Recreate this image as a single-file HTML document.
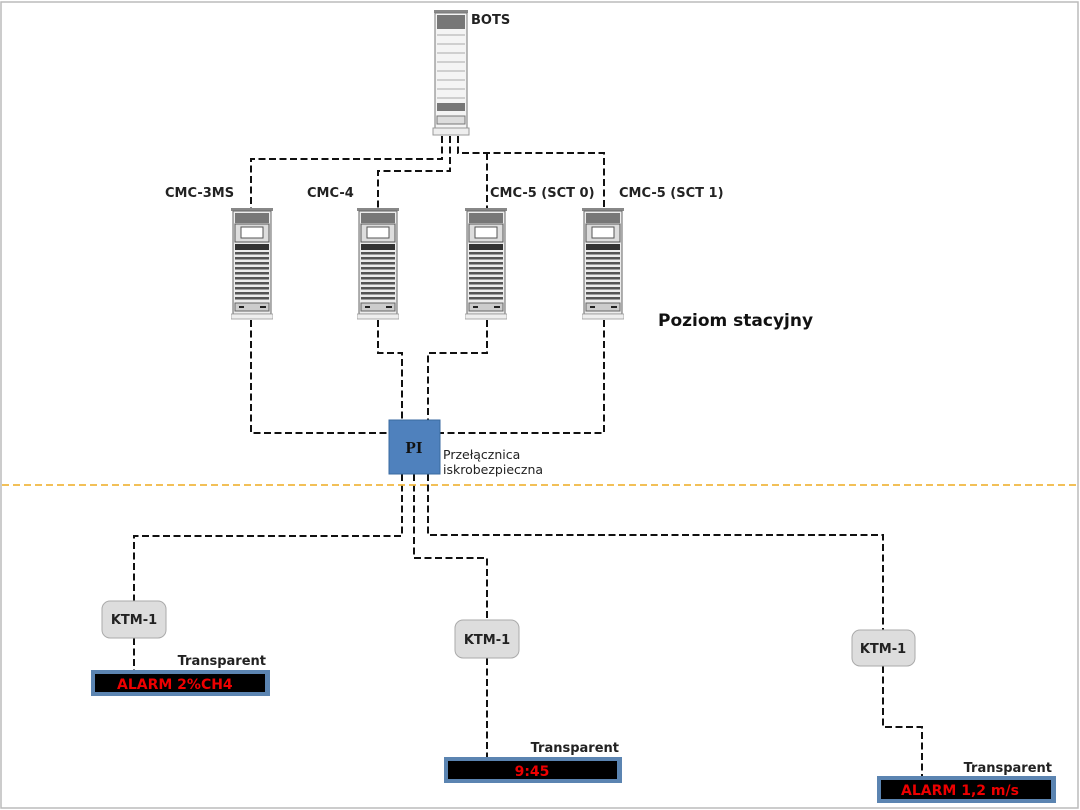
<!DOCTYPE html>
<html><head><meta charset="utf-8"><style>
html,body{margin:0;padding:0;background:#fff;}
svg{display:block;font-family:"DejaVu Sans","Liberation Sans",sans-serif;}
</style></head><body>
<svg width="1080" height="810" viewBox="0 0 1080 810" xmlns="http://www.w3.org/2000/svg">
<defs>
<symbol id="cmc" viewBox="0 0 42 112" width="42" height="112">
<rect x="0" y="0" width="42" height="3" fill="#888"/>
<rect x="2" y="3" width="38" height="103" fill="#ececec" stroke="#666" stroke-width="1"/>
<rect x="4" y="5" width="34" height="10" fill="#777"/>
<rect x="4" y="16" width="34" height="18" fill="#ddd" stroke="#555"/>
<rect x="10" y="19" width="22" height="11" fill="#fff" stroke="#555"/>
<rect x="4" y="36" width="34" height="6" fill="#333"/>
<g fill="#555">
<rect x="4" y="44" width="34" height="2.5"/><rect x="4" y="49" width="34" height="2.5"/>
<rect x="4" y="54" width="34" height="2.5"/><rect x="4" y="59" width="34" height="2.5"/>
<rect x="4" y="64" width="34" height="2.5"/><rect x="4" y="69" width="34" height="2.5"/>
<rect x="4" y="74" width="34" height="2.5"/><rect x="4" y="79" width="34" height="2.5"/>
<rect x="4" y="84" width="34" height="2.5"/><rect x="4" y="89" width="34" height="2.5"/>
</g>
<rect x="4" y="95" width="34" height="8" fill="#ccc" stroke="#666"/>
<rect x="8" y="98" width="5" height="2" fill="#222"/><rect x="29" y="98" width="6" height="2" fill="#222"/>
<rect x="0" y="106" width="42" height="5" fill="#eee" stroke="#999" stroke-width="0.8"/>
</symbol>
</defs>
<rect x="1" y="2" width="1077" height="806" fill="#fff" stroke="#bbb" stroke-width="1.5"/>

<g>
<rect x="434" y="10" width="34" height="3" fill="#888"/>
<rect x="435" y="13" width="32" height="115" fill="#f4f4f4" stroke="#777"/>
<rect x="437" y="15" width="28" height="14" fill="#777"/>
<g stroke="#aaa" fill="none">
<line x1="437" y1="35" x2="465" y2="35"/><line x1="437" y1="44" x2="465" y2="44"/>
<line x1="437" y1="53" x2="465" y2="53"/><line x1="437" y1="62" x2="465" y2="62"/>
<line x1="437" y1="71" x2="465" y2="71"/><line x1="437" y1="80" x2="465" y2="80"/>
<line x1="437" y1="89" x2="465" y2="89"/><line x1="437" y1="98" x2="465" y2="98"/>
</g>
<rect x="437" y="103" width="28" height="8" fill="#777"/>
<rect x="437" y="116" width="28" height="8" fill="#ddd" stroke="#777"/>
<rect x="433" y="128" width="36" height="7" fill="#eee" stroke="#999"/>
</g>
<text x="471" y="24" font-size="13" font-weight="bold" fill="#222">BOTS</text>

<use href="#cmc" x="231" y="208"/>
<use href="#cmc" x="357" y="208"/>
<use href="#cmc" x="465" y="208"/>
<use href="#cmc" x="582" y="208"/>

<g font-size="13" font-weight="bold" fill="#222">
<text x="165" y="197">CMC-3MS</text>
<text x="307" y="197">CMC-4</text>
<text x="490" y="197">CMC-5  (SCT 0)</text>
<text x="619" y="197">CMC-5 (SCT 1)</text>
</g>
<text x="658" y="326" font-size="17" font-weight="bold" fill="#111">Poziom stacyjny</text>

<g fill="none" stroke="#111" stroke-width="2" stroke-dasharray="7,3.5">
<polyline points="442,136 442,159 251,159 251,208"/>
<polyline points="450,136 450,171 378,171 378,208"/>
<polyline points="458,136 458,153 604,153 604,208"/>
<polyline points="487,153 487,208"/>
<polyline points="251,320 251,433 389,433"/>
<polyline points="378,320 378,353 402,353 402,420"/>
<polyline points="487,320 487,353 428,353 428,420"/>
<polyline points="604,320 604,433 440,433"/>
<polyline points="402,474 402,536 134,536 134,602"/>
<polyline points="134,638 134,670"/>
<polyline points="414,474 414,558 487,558 487,620"/>
<polyline points="487,658 487,757"/>
<polyline points="428,474 428,535 883,535 883,630"/>
<polyline points="883,666 883,727 922,727 922,776"/>
</g>

<line x1="2" y1="485" x2="1076" y2="485" stroke="#f0b840" stroke-width="1.8" stroke-dasharray="7,4"/>

<rect x="389" y="420" width="51" height="54" fill="#4f81bd" stroke="#3a6aa0"/>
<text x="414" y="453" font-family="Liberation Serif,serif" font-size="17" font-weight="bold" text-anchor="middle" fill="#111">PI</text>
<text x="443" y="459" font-size="12.5" fill="#222">Przełącznica</text>
<text x="443" y="474" font-size="12.5" fill="#222">iskrobezpieczna</text>

<g font-size="13" font-weight="bold" fill="#222">
<rect x="102" y="601" width="64" height="37" rx="8" fill="#ddd" stroke="#aaa"/>
<text x="134" y="624" text-anchor="middle">KTM-1</text>
<rect x="455" y="620" width="64" height="38" rx="8" fill="#ddd" stroke="#aaa"/>
<text x="487" y="644" text-anchor="middle">KTM-1</text>
<rect x="852" y="630" width="63" height="36" rx="8" fill="#ddd" stroke="#aaa"/>
<text x="883" y="653" text-anchor="middle">KTM-1</text>
<text x="266" y="665" text-anchor="end">Transparent</text>
<text x="619" y="752" text-anchor="end">Transparent</text>
<text x="1052" y="772" text-anchor="end">Transparent</text>
</g>

<rect x="91" y="670" width="179" height="26" fill="#5b84b1"/>
<rect x="95" y="674" width="170" height="18" fill="#000"/>
<text x="117" y="689" font-size="14" font-weight="bold" fill="#e00">ALARM 2%CH4</text>
<rect x="444" y="757" width="178" height="26" fill="#5b84b1"/>
<rect x="448" y="761" width="169" height="18" fill="#000"/>
<text x="532" y="776" font-size="14" font-weight="bold" fill="#e00" text-anchor="middle">9:45</text>
<rect x="877" y="776" width="179" height="27" fill="#5b84b1"/>
<rect x="881" y="780" width="170" height="19" fill="#000"/>
<text x="960" y="795" font-size="14" font-weight="bold" fill="#e00" text-anchor="middle">ALARM 1,2 m/s</text>
</svg>
</body></html>
